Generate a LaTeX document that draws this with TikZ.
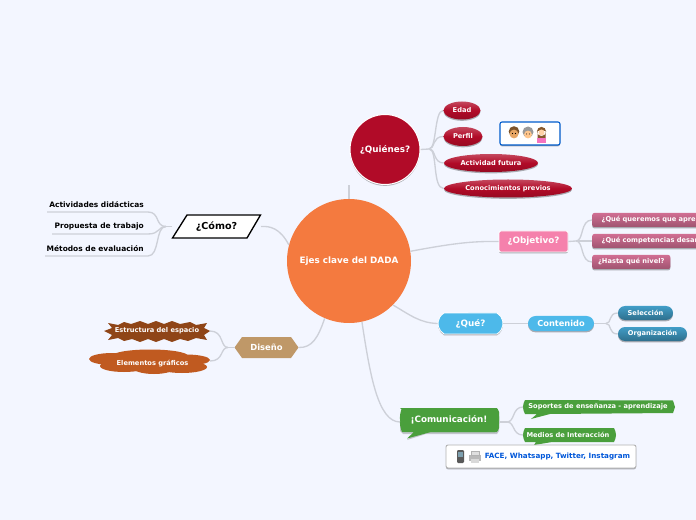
\documentclass[tikz,border=0pt]{standalone}
\usepackage{fontspec}
\setmainfont{DejaVu Sans}
\usetikzlibrary{shapes.geometric,shapes.misc,shadows}
\definecolor{bgc}{HTML}{F3F6FF}
\definecolor{linkc}{HTML}{CDD0D8}
\definecolor{orangec}{HTML}{F47A3F}
\definecolor{crim}{HTML}{B10B28}
\definecolor{pinkc}{HTML}{F581AC}
\definecolor{skyc}{HTML}{4DB9EA}
\definecolor{greenc}{HTML}{4A9F3C}
\definecolor{tanc}{HTML}{BF9868}
\definecolor{brownc}{HTML}{8F4517}
\definecolor{rustc}{HTML}{C05A20}
\newcommand{\pxfont}[1]{\fontsize{#1*0.75}{#1*0.9}\selectfont}
\tikzset{
  px/.style={x=0.75pt,y=-0.75pt},
  link/.style={draw=linkc,line width=1pt},
  softshadow/.style={drop shadow={shadow xshift=0pt,shadow yshift=-1pt,opacity=.3,fill=black}},
  lbl/.style={text=white,font=\bfseries\fontsize{#1}{#1}\selectfont,inner sep=0pt},
  lbl/.default=6pt,
  redpill/.style={ellipse,inner sep=0pt,top color=#1!75!white,bottom color=#1!85!black,middle color=crim,softshadow},
  redpill/.default=crim,
  pinkbar/.style={rectangle,rounded corners=1.5pt,minimum height=10.5pt,inner sep=0pt,top color=pinkc!85!black,bottom color=pinkc!65!black,softshadow,anchor=west},
  bluepill/.style={rounded rectangle,minimum height=10.5pt,inner sep=0pt,top color=skyc!85!black,bottom color=skyc!60!black,softshadow},
  greenbar/.style={inner sep=0pt,anchor=west},
  darktext/.style={text=black,font=\bfseries\fontsize{5.6pt}{6pt}\selectfont,inner sep=0pt,anchor=east},
}
\begin{document}
\begin{tikzpicture}[px]
\clip (0,0) rectangle (696,520);
\fill[bgc] (0,0) rectangle (696,520);

% shapes drawn behind named nodes
\fill[black,opacity=.2] (401,410) -- (404,409) -- (497,409) -- (499,412) -- (499,431) -- (497,434) -- (426,434) -- (407,440) -- (413,434) -- (403,434) -- (400,431) -- cycle;
\fill[greenc,rounded corners=3pt] (400,408) -- (499,408) -- (499,432) -- (428,432);
\fill[greenc] (402,408) -- (497,408) to[bend left=12] (499,420) to[bend left=12] (497,432) -- (431,432) -- (407,438.5) -- (414,432) -- (402,432) to[bend left=12] (400,420) to[bend left=12] cycle;
\fill[greenc] (525,400) -- (673,400.5) to[bend left=12] (675,407) to[bend left=12] (673,413) -- (550,414) -- (531,419) -- (537,414) -- (525,414) to[bend left=12] (523,407) to[bend left=12] cycle;
\fill[greenc] (525,428) -- (614,428) to[bend left=12] (616,435) to[bend left=12] (614,442) -- (552,442) -- (534,445) -- (536,442) -- (525,442) to[bend left=12] (523,435) to[bend left=12] cycle;
\fill[tanc] (242,337) -- (291,337) -- (298.5,347.5) -- (291,358) -- (242,358) -- (234.5,347.5) -- cycle;
\fill[brownc] (104,331) -- (112,328) -- (108,323) -- (118,325) -- (124,322) -- (131,324) -- (140,321) -- (148,324) -- (156,321) -- (164,324) -- (172,321) -- (180,324) -- (190,322) -- (196,325) -- (207,323) -- (204,328) -- (210,331) -- (204,335) -- (207,340) -- (196,338) -- (188,341) -- (180,339) -- (172,342) -- (164,339) -- (156,342) -- (148,339) -- (140,342) -- (132,339) -- (124,341) -- (118,338) -- (108,340) -- (112,335) -- cycle;
\fill[rustc] (112,359) ellipse (23 and 6);
\fill[rustc] (150,356) ellipse (38 and 6.5);
\fill[rustc] (186,360) ellipse (24 and 5.5);
\fill[rustc] (124,366) ellipse (24 and 6);
\fill[rustc] (154,367) ellipse (22 and 7);
\fill[rustc] (182,367) ellipse (25 and 6);
\fill[rustc] (150,362) ellipse (50 and 7);
\fill[white,draw=black,line width=1pt] (187,215) -- (260.5,215) -- (247,238) -- (172.5,238) -- cycle;

% nodes
\node[circle,minimum size=124pt*0.75,inner sep=0pt,fill=orangec] (central) at (349,261) {};
\node[lbl=6.6pt] (centralt) at (349,261) {Ejes clave del DADA};
\node[circle,minimum size=70pt*0.75,inner sep=0pt,fill=crim,draw=white,line width=.8pt,softshadow,lbl=6.6pt] (quien) at (385,149.5) {¿Quiénes?};
\node[redpill,lbl=5pt,minimum width=37pt*.75,minimum height=18pt*.75] (edad) at (462,110.5) {Edad};
\node[redpill,lbl=5pt,minimum width=39pt*.75,minimum height=19pt*.75] (perfil) at (463,136.5) {Perfil};
\node[redpill,lbl=5pt,minimum width=94pt*.75,minimum height=18pt*.75] (activ) at (491,163) {Actividad futura};
\node[redpill,lbl=5pt,minimum width=128pt*.75,minimum height=18pt*.75] (conoc) at (508,188.5) {Conocimientos previos};
\node[rectangle,rounded corners=1.5pt,draw=blue!55!cyan!80!black,fill=white,line width=.8pt,minimum width=60pt*.75,minimum height=23pt*.75,softshadow,inner sep=0pt] (emojibox) at (530,133.5) {};

\node[rectangle,rounded corners=1.5pt,fill=pinkc,draw=white,line width=.6pt,softshadow,lbl=6.6pt,minimum width=69pt*.75,minimum height=21pt*.75] (objet) at (533.5,241.5) {¿Objetivo?};
\node[pinkbar,lbl=5pt,minimum width=110pt*.75,text width=76pt,align=left] (q1) at (592,220) {\hspace*{3.8pt}¿Qué queremos que apre};
\node[pinkbar,lbl=5pt,minimum width=110pt*.75,text width=76pt,align=left] (q2) at (592,241) {\hspace*{3.8pt}¿Qué competencias desar};
\node[pinkbar,lbl=5pt,minimum width=78pt*.75] (q3) at (592,262) {¿Hasta qué nivel?};

\node[rounded rectangle,rounded rectangle arc length=120,fill=skyc,draw=white,line width=.6pt,softshadow,lbl=6.6pt,minimum width=65pt*.75,minimum height=21pt*.75] (que) at (470.5,323.5) {¿Qué?};
\node[rounded rectangle,fill=skyc,softshadow,lbl=6.2pt,minimum width=66pt*.75,minimum height=15pt*.75] (cont) at (561,323.5) {Contenido};
\node[bluepill,lbl=5pt,minimum width=55pt*.75] (sel) at (645.5,313) {Selección};
\node[bluepill,lbl=5pt,minimum width=69pt*.75] (org) at (652.5,334) {Organización};

\node[lbl=6.6pt] (comu) at (449,420) {¡Comunicación!};
\node[lbl=5pt] (sop) at (598,407) {Soportes de enseñanza - aprendizaje};
\node[lbl=5pt] (med) at (568,435) {Medios de Interacción};
\node[rectangle,rounded corners=1.5pt,draw=gray!60,fill=white,line width=.7pt,minimum width=190pt*.75,minimum height=23pt*.75,inner sep=0pt,softshadow] (fbox) at (541,456.5) {};
\node[inner sep=0pt,text=blue!60!cyan!85!black,font=\bfseries\fontsize{5.4pt}{6pt}\selectfont,anchor=west] (ftext) at (484.5,456.5) {FACE, Whatsapp, Twitter, Instagram};

\node[lbl=6.3pt] (dis) at (266.5,347.5) {Diseño};
\node[lbl=5pt] (est) at (157,331) {Estructura del espacio};
\node[lbl=5pt] (ele) at (152.5,363.5) {Elementos gráficos};

\node[inner sep=0pt,font=\bfseries\fontsize{7.2pt}{8pt}\selectfont,text=black,minimum width=66pt,minimum height=17pt] (como) at (216.5,226.5) {¿Cómo?};
\node[darktext] (act) at (144,204.5) {Actividades didácticas};
\node[darktext] (pro) at (144,226.5) {Propuesta de trabajo};
\node[darktext] (met) at (144,248.5) {Métodos de evaluación};

% free ends
\coordinate (actL) at (47,212);
\coordinate (proL) at (52,234);
\coordinate (metL) at (45,256);
\coordinate (comoL) at (172,226.5);
\coordinate (comoR) at (261,226.5);
\coordinate (disL) at (234.5,347.5);
\coordinate (disR) at (298.5,347.5);
\coordinate (comuL) at (400,422);
\coordinate (comuR) at (499,422);
\coordinate (sopL) at (523,407);
\coordinate (medL) at (523,435);
\coordinate (estR) at (210,331);
\coordinate (eleR) at (210,361);

% connectors
\begin{scope}[on background layer/.try]
\draw[link] (central.90) -- (central.90 |- quien.south);
\draw[link] (central.9) .. controls (450,244) and (470,241) .. (objet.west);
\draw[link] (central.-45) .. controls (410,315) and (420,323) .. (que.west);
\draw[link] (central.-78) .. controls (370,375) and (378,422) .. (comuL);
\draw[link] (central.-113) .. controls (318,338) and (312,348) .. (disR);
\draw[link] (central.165) .. controls (280,228) and (270,226) .. (comoR);
\draw[link] (quien.east) -- (429,149);
\draw[link] (429,149) .. controls (437,149) and (434,110.5) .. (edad.west);
\draw[link] (429,149) .. controls (435,149) and (432,136.5) .. (perfil.west);
\draw[link] (429,149) .. controls (436,149) and (433,163) .. (activ.west);
\draw[link] (429,149) .. controls (438,149) and (432,188.5) .. (conoc.west);
\draw[link] (objet.east) -- (576,241);
\draw[link] (576,241) .. controls (584,241) and (580,220) .. (q1.west);
\draw[link] (576,241) -- (q2.west);
\draw[link] (576,241) .. controls (584,241) and (580,262) .. (q3.west);
\draw[link] (que.east) -- (cont.west);
\draw[link] (cont.east) -- (606,323.5);
\draw[link] (606,323.5) .. controls (612,323.5) and (608,313) .. (sel.west);
\draw[link] (606,323.5) .. controls (612,323.5) and (608,334) .. (org.west);
\draw[link] (comuR) -- (507,422);
\draw[link] (507,422) .. controls (515,422) and (512,407) .. (sopL);
\draw[link] (507,422) .. controls (515,422) and (512,435) .. (medL);
\draw[link] (disL) -- (228,347.5);
\draw[link] (228,347.5) .. controls (220,347.5) and (224,331) .. (estR);
\draw[link] (228,347.5) .. controls (220,347.5) and (224,361) .. (eleR);
\draw[link] (comoL) -- (166,226.5);
\draw[link] (166,226.5) .. controls (155,226.5) and (160,212) .. (148,212) -- (actL);
\draw[link] (166,226.5) .. controls (158,226.5) and (160,234) .. (148,234) -- (proL);
\draw[link] (166,226.5) .. controls (155,226.5) and (160,256) .. (148,256) -- (metL);
\end{scope}

% emoji drawings
\begin{scope}
\fill[brown!65!black] (514,131.5) circle (5.3);
\fill[orange!45!brown!70!white] (514,134) circle (4.4);
\fill[black] (512.5,133.5) circle (.6) (515.5,133.5) circle (.6);
\fill[gray!80] (528,132) circle (5.5);
\fill[orange!45!white] (528,134.5) circle (3.9);
\fill[black] (526.7,134) circle (.5) (529.3,134) circle (.5);
\fill[brown!70!black] (541.5,131.5) circle (4.6) (537.5,131) rectangle (545.5,138);
\fill[orange!35!white] (541.5,132.5) circle (3);
\fill[magenta!55!white] (537,138) rectangle (546,143.5);
\end{scope}
% device icons
\begin{scope}
\fill[gray!70!black,rounded corners=.8pt] (457,450) rectangle (464,463);
\fill[cyan!30!gray] (458,452) rectangle (463,457);
\fill[gray!55] (469,455) rectangle (481,461);
\fill[gray!25,draw=gray!60,line width=.3pt] (471,451) rectangle (479,455);
\fill[gray!30] (471,459) rectangle (479,463);
\end{scope}
\end{tikzpicture}
\end{document}
